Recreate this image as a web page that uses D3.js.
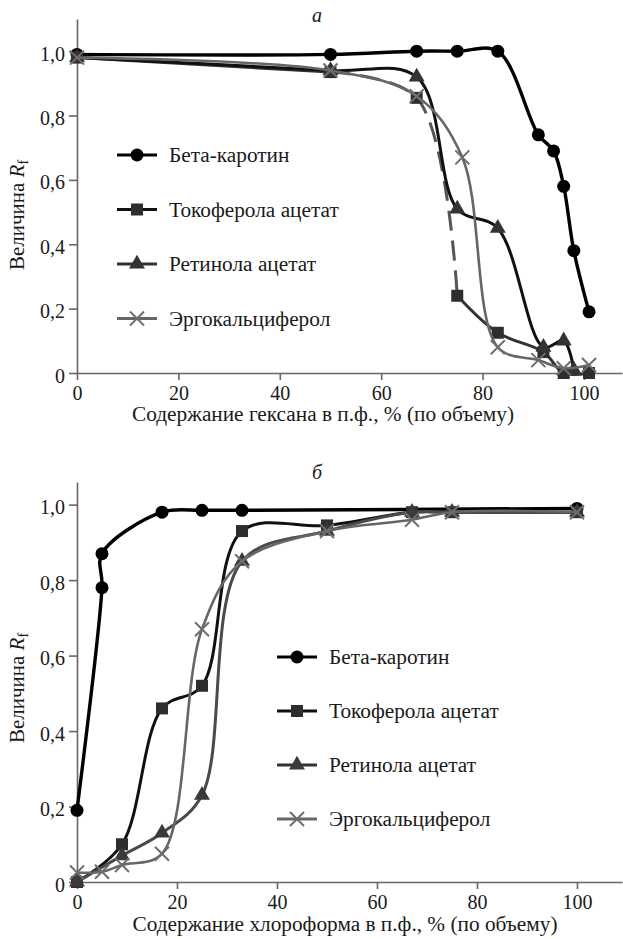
<!DOCTYPE html>
<html>
<head>
<meta charset="utf-8">
<script src="https://cdn.jsdelivr.net/npm/d3@7"></script>
<style>
  body { margin: 0; background: #fff; }
  svg { display: block; }
</style>
</head>
<body>
<div class="chart"></div>
<script>
// series names (legend order)
var names = ['Бета-каротин', 'Токоферола ацетат', 'Ретинола ацетат', 'Эргокальциферол'];
var shapes = ['circle', 'square', 'triangle', 'cross'];

// panel а: hexane content, % -> Rf
var hexBeta = [[0, 0.99], [50, 0.99], [67, 1.0], [75, 1.0], [83, 1.0], [91, 0.74], [94, 0.69], [96, 0.58], [98, 0.38], [101, 0.19]];
var hexToco = [[0, 0.98], [50, 0.935], [67, 0.855], [75, 0.24], [83, 0.125], [92, 0.065], [96, 0.0], [101, 0.0]];
var hexRetinol = [[0, 0.98], [50, 0.94], [67, 0.92], [75, 0.51], [83, 0.45], [92, 0.08], [96, 0.10], [98, 0.01]];
var hexErgo = [[0, 0.98], [50, 0.94], [67, 0.86], [76, 0.67], [83, 0.08], [91, 0.04], [96, 0.015], [101, 0.025]];

// panel б: chloroform content, % -> Rf
var chlBeta = [[0, 0.19], [5, 0.78], [5, 0.87], [17, 0.98], [25, 0.985], [33, 0.985], [100, 0.99]];
var chlToco = [[0, 0.0], [9, 0.10], [17, 0.46], [25, 0.52], [33, 0.93], [50, 0.945], [67, 0.98], [75, 0.98], [100, 0.98]];
var chlRetinol = [[0, 0.0], [9, 0.07], [17, 0.13], [25, 0.23], [33, 0.85], [50, 0.93], [67, 0.98], [75, 0.98], [100, 0.98]];
var chlErgo = [[0, 0.025], [5, 0.027], [9, 0.045], [17, 0.075], [25, 0.67], [33, 0.85], [50, 0.93], [67, 0.96], [75, 0.98], [100, 0.98]];

var xTicks = [0, 20, 40, 60, 80, 100];
var yTicks = [0, 0.2, 0.4, 0.6, 0.8, 1.0];

var width = 623;
var height = 939;
var font = '"Liberation Serif"';

var svg = d3.select('.chart').append('svg')
  .attr('width', width)
  .attr('height', height);

function marker(sel, shape, color) {
  if (shape === 'circle') {
    sel.append('circle').attr('r', 6.5).attr('fill', color);
  } else if (shape === 'square') {
    sel.append('rect').attr('x', -6).attr('y', -6).attr('width', 12).attr('height', 12).attr('fill', color);
  } else if (shape === 'triangle') {
    sel.append('path').attr('d', d3.symbol(d3.symbolTriangle, 110)()).attr('fill', color);
  } else {
    sel.append('path').attr('d', 'M-7,-7L7,7M-7,7L7,-7')
      .attr('stroke', color).attr('stroke-width', 2).attr('fill', 'none');
  }
}

function drawPanel(cfg) {
  var x = d3.scaleLinear().domain(cfg.xDomain).range([77, 622]);
  var y = d3.scaleLinear().domain(cfg.yDomain).range(cfg.yRange);
  var g = svg.append('g');

  var xAxis = g.append('g')
    .attr('transform', `translate(0,${y(0)})`)
    .call(d3.axisBottom(x).tickValues(xTicks).tickSize(7).tickSizeOuter(0).tickPadding(5));
  var yAxis = g.append('g')
    .attr('transform', `translate(${x(0)},0)`)
    .call(d3.axisLeft(y).tickValues(yTicks).tickSize(8).tickSizeOuter(0).tickPadding(4)
      .tickFormat(d => d === 0 ? '0' : d.toFixed(1).replace('.', ',')));
  [xAxis, yAxis].forEach(a => {
    a.select('.domain').attr('stroke', '#666').attr('stroke-width', 1.6);
    a.selectAll('.tick line').attr('stroke', '#666').attr('stroke-width', 1.6);
    a.selectAll('.tick text').attr('fill', '#1a1a1a')
      .style('font-family', font).style('font-size', '20px');
  });
  xAxis.selectAll('.tick text').attr('dy', '0.74em');
  yAxis.selectAll('.tick text').attr('dy', '0.45em');

  var line = d3.line().x(d => x(d[0])).y(d => y(d[1])).curve(d3.curveCatmullRom.alpha(0.5));

  cfg.series.forEach((s, i) => {
    var color = cfg.colors[i];
    if (cfg.dashed && cfg.dashed[0] === i) {
      var a = cfg.dashed[1], b = cfg.dashed[2];
      g.append('path').attr('d', line(s.slice(0, a + 1))).attr('fill', 'none')
        .attr('stroke', color).attr('stroke-width', cfg.widths[i]);
      g.append('path').attr('d', line(s.slice(a, b + 1))).attr('fill', 'none')
        .attr('stroke', '#555').attr('stroke-width', cfg.widths[i]).attr('stroke-dasharray', '20,10');
      g.append('path').attr('d', line(s.slice(b))).attr('fill', 'none')
        .attr('stroke', color).attr('stroke-width', cfg.widths[i]);
    } else {
      g.append('path').attr('d', line(s)).attr('fill', 'none')
        .attr('stroke', color).attr('stroke-width', cfg.widths[i]);
    }
    g.selectAll(null).data(s).enter().append('g')
      .attr('transform', d => `translate(${x(d[0])},${y(d[1])})`)
      .each(function () { marker(d3.select(this), shapes[i], cfg.markColors[i]); });
  });

  // legend
  names.forEach((n, i) => {
    var ly = cfg.legend[1] + i * cfg.legend[2];
    var lg = g.append('g').attr('transform', `translate(${cfg.legend[0]},${ly})`);
    lg.append('line').attr('x1', -20).attr('x2', 20)
      .attr('stroke', cfg.legendColors[i]).attr('stroke-width', 3.2);
    marker(lg, shapes[i], cfg.markColors[i]);
    lg.append('text').attr('x', 32).attr('dy', '0.33em')
      .style('font-family', font).style('font-size', '21.3px')
      .attr('fill', '#1a1a1a').text(n);
  });

  // axis titles
  g.append('text').attr('x', cfg.xTitleX).attr('y', cfg.xTitleY)
    .attr('text-anchor', 'middle').attr('fill', '#1a1a1a')
    .style('font-family', font).style('font-size', '21.3px')
    .text(cfg.xTitle);
  var yt = g.append('text').attr('transform', `translate(24,${cfg.yTitleY}) rotate(-90)`)
    .attr('text-anchor', 'middle').attr('fill', '#1a1a1a')
    .style('font-family', font).style('font-size', '21px');
  yt.append('tspan').text('Величина ');
  yt.append('tspan').style('font-style', 'italic').text('R');
  yt.append('tspan').attr('dy', 4).style('font-size', '14px').text('f');

  g.append('text').attr('x', 312).attr('y', cfg.letterY)
    .style('font-family', font).style('font-size', '20px').style('font-style', 'italic')
    .attr('fill', '#1a1a1a').text(cfg.letter);
}

drawPanel({
  xDomain: [0, 107.5], yDomain: [0, 1.1], yRange: [373, 19],
  series: [hexBeta, hexToco, hexRetinol, hexErgo],
  colors: ['#000', '#333', '#111', '#666'],
  widths: [3.4, 3, 3, 2.6],
  markColors: ['#000', '#2e2e2e', '#333', '#6e6e6e'],
  legendColors: ['#000', '#111', '#333', '#666'],
  dashed: [1, 1, 3],
  legend: [137, 155, 54.5],
  xTitle: 'Содержание гексана в п.ф., % (по объему)', xTitleX: 323, xTitleY: 421,
  yTitleY: 215,
  letter: 'а', letterY: 22
});

drawPanel({
  xDomain: [0, 109], yDomain: [0, 1.06], yRange: [882, 482],
  series: [chlBeta, chlToco, chlRetinol, chlErgo],
  colors: ['#000', '#111', '#4a4a4a', '#666'],
  widths: [3.4, 3, 3, 2.6],
  markColors: ['#000', '#2e2e2e', '#3a3a3a', '#6e6e6e'],
  legendColors: ['#000', '#111', '#333', '#666'],
  legend: [297, 657, 54],
  xTitle: 'Содержание хлороформа в п.ф., % (по объему)', xTitleX: 345, xTitleY: 931,
  yTitleY: 688,
  letter: 'б', letterY: 479
});
</script>
</body>
</html>
